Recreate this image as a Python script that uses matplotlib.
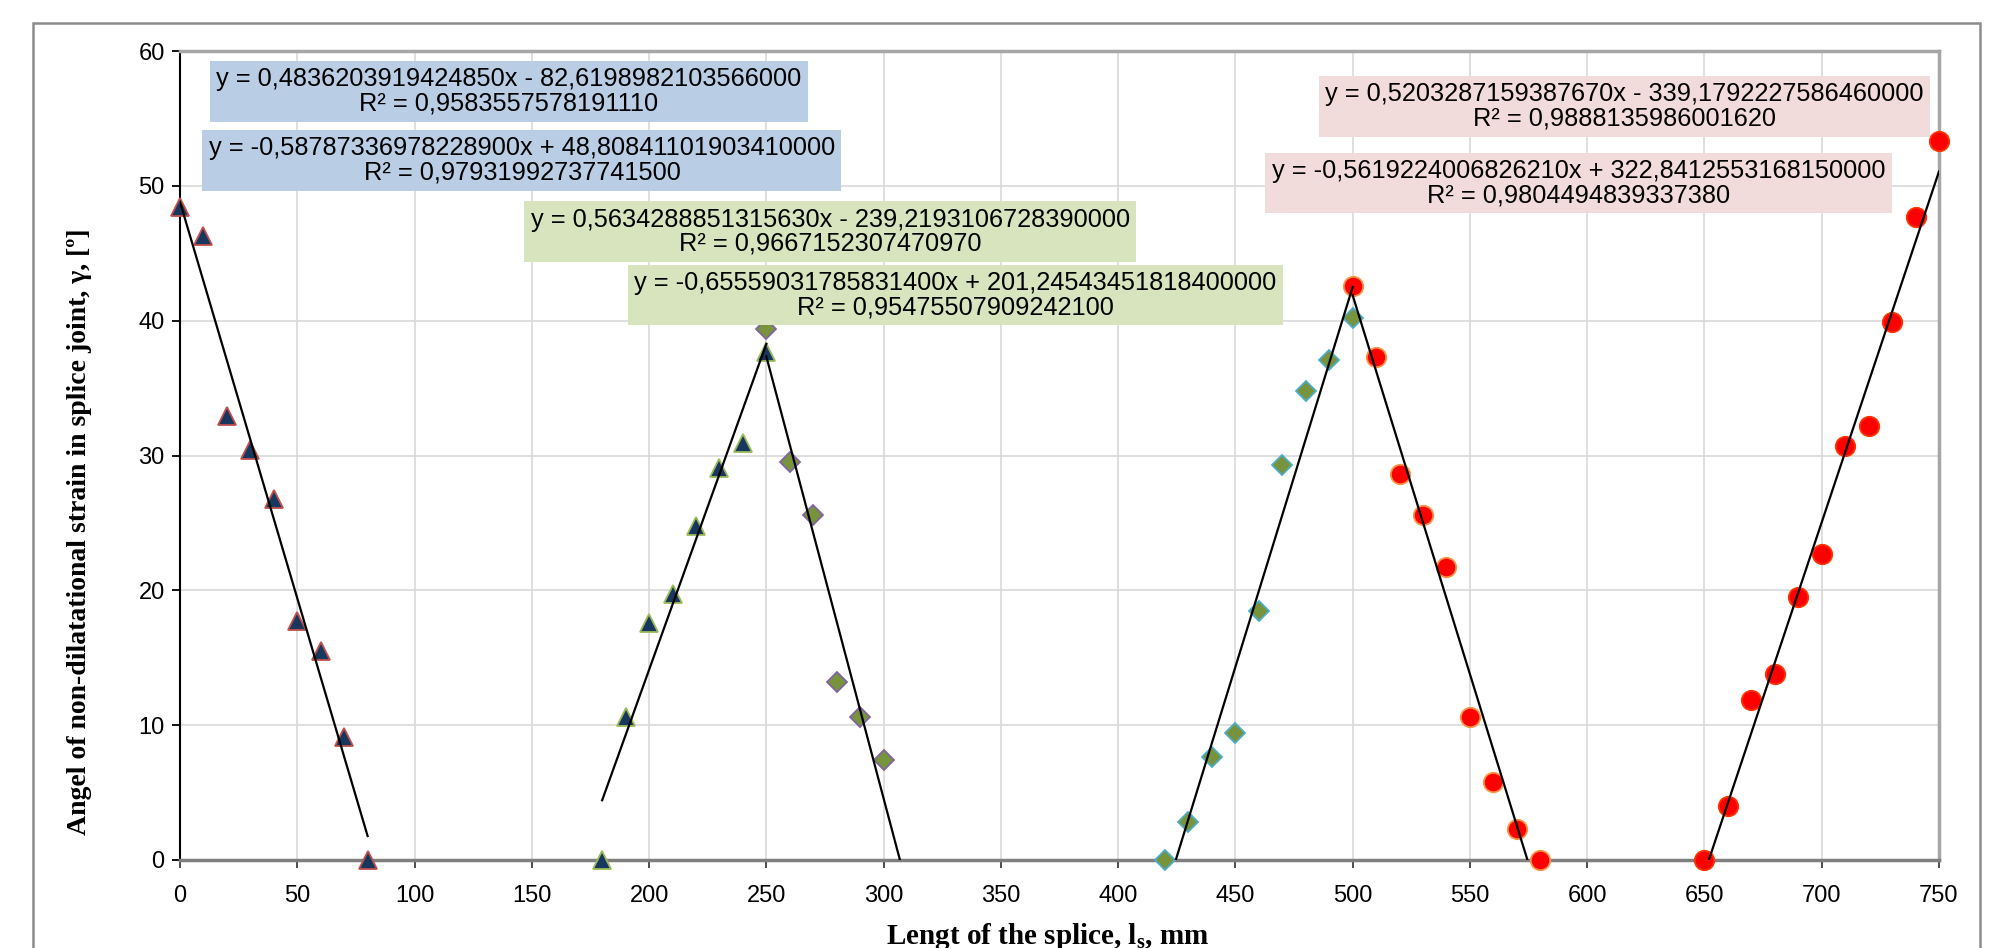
import numpy as np
import matplotlib
matplotlib.use("Agg")
import matplotlib.pyplot as plt
from matplotlib.patches import Rectangle

plt.rcParams['font.family'] = ['Liberation Sans', 'DejaVu Sans']
plt.rcParams['mathtext.fontset'] = 'custom'
plt.rcParams['mathtext.bf'] = 'Liberation Serif:bold'
plt.rcParams['mathtext.rm'] = 'Liberation Serif:bold'

# measured points
x1 = [0, 10, 20, 30, 40, 50, 60, 70, 80]
y1 = [48.4, 46.3, 32.9, 30.4, 26.8, 17.7, 15.5, 9.1, 0]
x2 = [180, 190, 200, 210, 220, 230, 240, 250]
y2 = [0, 10.6, 17.6, 19.7, 24.8, 29.1, 30.9, 37.7]
x3 = [250, 260, 270, 280, 290, 300]
y3 = [39.4, 29.5, 25.6, 13.2, 10.6, 7.4]
x4 = [420, 430, 440, 450, 460, 470, 480, 490, 500]
y4 = [0, 2.8, 7.65, 9.45, 18.5, 29.3, 34.8, 37.1, 40.2]
x5 = [500, 510, 520, 530, 540, 550, 560, 570, 580]
y5 = [42.6, 37.3, 28.65, 25.6, 21.75, 10.6, 5.8, 2.3, 0]
x6 = [650, 660, 670, 680, 690, 700, 710, 720, 730, 740, 750]
y6 = [0, 4.0, 11.9, 13.8, 19.5, 22.7, 30.7, 32.2, 39.9, 47.7, 53.3]

# trendline equations as printed on the chart (order: series 1..6)
slopes = ["-0,58787336978228900", "0,4836203919424850", "-0,65559031785831400",
          "0,5634288851315630", "-0,5619224006826210", "0,5203287159387670"]
icepts = ["48,80841101903410000", "-82,6198982103566000", "201,24543451818400000",
          "-239,2193106728390000", "322,8412553168150000", "-339,1792227586460000"]
r2s = ["0,97931992737741500", "0,9583557578191110", "0,95475507909242100",
       "0,9667152307470970", "0,9804494839337380", "0,9888135986001620"]
trend_x0 = [0, 180, 250, 420, 500, 650]
trend_x1 = [80, 250, 310, 500, 580, 750]

xticks = np.arange(0, 751, 50)
yticks = np.arange(0, 61, 10)

fig = plt.figure(figsize=(20.03, 9.48), dpi=100)
ax = fig.add_axes([180 / 2003, 1 - 860 / 948, 1759 / 2003, 809 / 948])

navy = '#17375E'
olive = '#77933C'
mk = dict(linestyle='none', clip_on=False, zorder=3, markeredgewidth=1.3)
ax.plot(x1, y1, marker='^', ms=13, mfc=navy, mec='#C0504D', **mk)
ax.plot(x2, y2, marker='^', ms=13, mfc=navy, mec='#9BBB59', **mk)
ax.plot(x3, y3, marker='D', ms=10, mfc=olive, mec='#8064A2', **mk)
ax.plot(x4, y4, marker='D', ms=10, mfc=olive, mec='#4BACC6', **mk)
ax.plot(x5, y5, marker='o', ms=14, mfc='#FF0000', mec='#F79646', **mk)
ax.plot(x6, y6, marker='o', ms=14, mfc='#FF0000', mec='#FF3300', **mk)


def num(s):
    return float(s.replace(',', '.'))


for s, b, a0, a1 in zip(slopes, icepts, trend_x0, trend_x1):
    tx = np.array([a0, a1], dtype=float)
    ax.plot(tx, num(s) * tx + num(b), color='black', lw=1.6, zorder=4)


def label(s, b, r):
    sign = '-' if b.startswith('-') else '+'
    return "y = %sx %s %s\nR² = %s" % (s, sign, b.lstrip('-'), r)


# label boxes: (series index, x, y, colour)
boxes = [(1, 140.3, 57.0, '#B9CDE5'), (0, 145.8, 51.9, '#B9CDE5'),
         (3, 277.2, 46.6, '#D7E4BD'), (2, 330.5, 41.9, '#D7E4BD'),
         (5, 615.9, 55.9, '#F2DCDB'), (4, 596.3, 50.2, '#F2DCDB')]
for i, bx, by, c in boxes:
    ax.text(bx, by, label(slopes[i], icepts[i], r2s[i]), ha='center', va='center',
            multialignment='center', fontsize=18.3, linespacing=1.0, zorder=6,
            bbox=dict(boxstyle='square,pad=0.25', fc=c, ec='none'))

ax.set_xlim(0, 750)
ax.set_ylim(0, 60)
ax.set_xticks(xticks)
ax.set_yticks(yticks)
ax.tick_params(axis='both', labelsize=17, direction='out', length=6, width=1.3)
ax.tick_params(axis='x', colors='#404040', labelcolor='black', pad=12)
ax.tick_params(axis='y', pad=5)
ax.grid(True, color='#d9d9d9', lw=1.2)
ax.set_axisbelow(True)

ax.spines['left'].set_color('black')
ax.spines['left'].set_linewidth(1.5)
ax.spines['bottom'].set_color('#7f7f7f')
ax.spines['bottom'].set_linewidth(2.5)
for sp in ('top', 'right'):
    ax.spines[sp].set_color('#a6a6a6')
    ax.spines[sp].set_linewidth(2.5)

fig.text(80 / 2003, 1 - 532 / 948, 'Angel of non-dilatational strain in splice joint, γ, [º]',
         rotation=90, ha='center', va='center',
         family='Liberation Serif', fontweight='bold', fontsize=20)
fig.text(1048 / 2003, 4 / 948, r'Lengt of the splice, l$_{\mathbf{s}}$, mm',
         ha='center', va='baseline',
         family='Liberation Serif', fontweight='bold', fontsize=21)

fig.patches.append(Rectangle((33 / 2003, -0.1), 1947 / 2003, 1.1 - 23 / 948,
                             transform=fig.transFigure, fill=False,
                             ec='#8c8c8c', lw=1.8))

fig.savefig('out.png', dpi=100)
